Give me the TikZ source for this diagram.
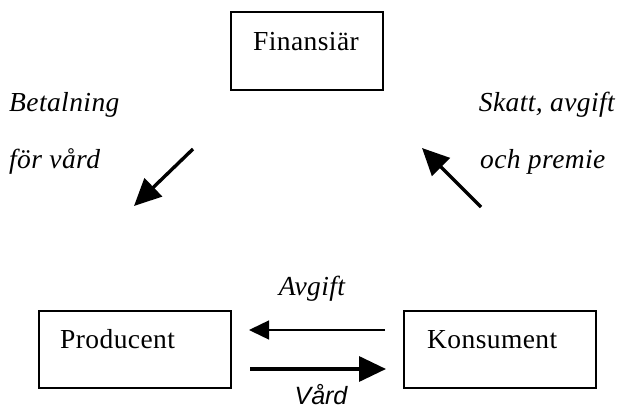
\documentclass[tikz,border=0pt]{standalone}
\usepackage{fontspec}
\usetikzlibrary{arrows.meta}
\newfontfamily\tms[LetterSpace=1.5]{Liberation Serif}
\newfontfamily\arl{Liberation Sans}
\begin{document}
\begin{tikzpicture}[x=1pt,y=-1pt,
  box/.style={draw, line width=1.6pt, inner sep=0pt},
  lbl/.style={inner sep=0pt, font=\tms\fontsize{27.5}{31}\selectfont},
  ilbl/.style={lbl, font=\tms\fontsize{27.5}{31}\selectfont\itshape},
  bigarrow/.style={line width=3.4pt, -{Triangle[length=27pt,width=25pt]}},
  thinarrow/.style={line width=1.4pt, -{Triangle[length=20pt,width=19pt]}}]
  \useasboundingbox (0,0) rectangle (622,412);

  % boxes
  \node[box, minimum width=152pt, minimum height=78pt] (fin) at (307,51) {};
  \node[box, minimum width=192pt, minimum height=77pt] (prod) at (135,349.5) {};
  \node[box, minimum width=192pt, minimum height=77pt] (kons) at (500,349.5) {};

  % box labels
  \node[lbl, anchor=base west] (fintxt) at (253,51) {Finansiär};
  \node[lbl, anchor=base west] (prodtxt) at (60,348) {Producent};
  \node[lbl, anchor=base west] (konstxt) at (427,348) {Konsument};

  % side labels
  \node[ilbl, anchor=base west] (bet1) at (9,112) {Betalning};
  \node[ilbl, anchor=base west] (bet2) at (9,168) {för vård};
  \node[ilbl, anchor=base east] (sk1) at (615,112) {Skatt, avgift};
  \node[ilbl, anchor=base west] (sk2) at (480,168) {och premie};
  \node[ilbl, anchor=base] (avg) at (312,295) {Avgift};
  \node[inner sep=0pt, anchor=base, font=\arl\fontsize{25}{29}\selectfont\itshape] (vard) at (321,404) {Vård};

  % arrow end points
  \coordinate (d1a) at (193,149);
  \coordinate (d1b) at (134,206);
  \coordinate (d2a) at (481,207);
  \coordinate (d2b) at (422,148);
  \coordinate (ha) at (385,330);
  \coordinate (hb) at (249,330);
  \coordinate (va) at (250,369);
  \coordinate (vb) at (386,369);

  % arrows
  \draw[bigarrow] (d1a) -- (d1b);
  \draw[bigarrow] (d2a) -- (d2b);
  \draw[thinarrow] (ha) -- (hb);
  \draw[bigarrow] (va) -- (vb);
\end{tikzpicture}
\end{document}
